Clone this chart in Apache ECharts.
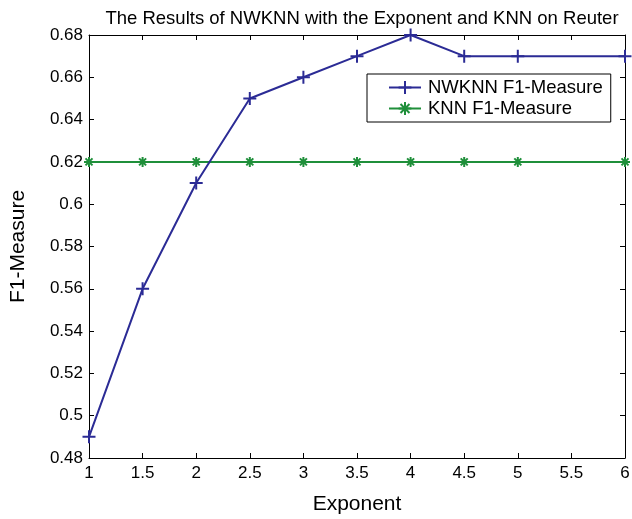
<!DOCTYPE html>
<html>
<head>
<meta charset="utf-8">
<script src="https://cdn.jsdelivr.net/npm/echarts@6/dist/echarts.min.js"></script>
<style>
  html, body { margin: 0; padding: 0; background: #fff; }
  #chart { width: 632px; height: 519px; }
</style>
</head>
<body>
<div id="chart"></div>
<script>
const exponents = [1, 1.5, 2, 2.5, 3, 3.5, 4, 4.5, 5, 6];
const nwknnF1 = [0.49, 0.56, 0.61, 0.65, 0.66, 0.67, 0.68, 0.67, 0.67, 0.67];
const knnF1 = [0.62, 0.62, 0.62, 0.62, 0.62, 0.62, 0.62, 0.62, 0.62, 0.62];

const FONT = "Liberation Sans, Arial, Helvetica, sans-serif";
const plusPath = "path://M0,-1L0,1M-1,0L1,0";
const starPath = "path://M0,-1L0,1M-1,0L1,0M-0.7,-0.7L0.7,0.7M-0.7,0.7L0.7,-0.7";

function pairs(xs, ys) {
    return xs.map(function (x, i) { return [x, ys[i]]; });
}

const chart = echarts.init(document.getElementById("chart"));

const axisBase = {
    type: "value",
    axisLine: { show: true, onZero: false, lineStyle: { color: "#000", width: 1 } },
    axisTick: { show: true, inside: true, length: 5, lineStyle: { color: "#000" } },
    splitLine: { show: false },
};

chart.setOption({
    animation: false,
    title: {
        text: "The Results of NWKNN with the Exponent and KNN on Reuter",
        left: 357,
        textAlign: "center",
        top: 4,
        textStyle: { fontFamily: FONT, fontSize: 18.5, fontWeight: "normal", color: "#000" },
    },
    legend: {
        orient: "vertical",
        left: 367,
        top: 74,
        padding: [4, 8, 4, 21],
        itemGap: 2,
        itemWidth: 32,
        itemHeight: 16,
        borderColor: "#000",
        borderWidth: 1,
        backgroundColor: "#fff",
        textStyle: { fontFamily: FONT, fontSize: 18.5, color: "#000", padding: [0, 0, 0, 2] },
        data: ["NWKNN F1-Measure", "KNN F1-Measure"],
    },
    grid: { left: 89, right: 7, top: 35, bottom: 61, outerBoundsMode: "none" },
    xAxis: [
        Object.assign({}, axisBase, {
            min: 1, max: 6, interval: 0.5,
            name: "Exponent",
            nameLocation: "middle",
            nameGap: 36,
            nameTextStyle: { fontFamily: FONT, fontSize: 21, color: "#000" },
            axisLabel: { fontFamily: FONT, fontSize: 17, color: "#000", margin: 7 },
        }),
        Object.assign({}, axisBase, {
            min: 1, max: 6, interval: 0.5, position: "top",
            axisLabel: { show: false },
        }),
    ],
    yAxis: [
        Object.assign({}, axisBase, {
            min: 0.48, max: 0.68, interval: 0.02,
            name: "F1-Measure",
            nameLocation: "middle",
            nameGap: 60,
            nameTextStyle: { fontFamily: FONT, fontSize: 21, color: "#000" },
            axisLabel: { fontFamily: FONT, fontSize: 17, color: "#000", margin: 6 },
        }),
        Object.assign({}, axisBase, {
            min: 0.48, max: 0.68, interval: 0.02, position: "right",
            axisLabel: { show: false },
        }),
    ],
    series: [
        {
            name: "NWKNN F1-Measure",
            type: "line",
            data: pairs(exponents, nwknnF1),
            symbol: plusPath,
            symbolSize: 13,
            lineStyle: { color: "#2b2b95", width: 2 },
            itemStyle: { color: "#2b2b95", borderColor: "#2b2b95", borderWidth: 2 },
            z: 3,
        },
        {
            name: "KNN F1-Measure",
            type: "line",
            data: pairs(exponents, knnF1),
            symbol: starPath,
            symbolSize: 10,
            lineStyle: { color: "#1f8f3a", width: 2 },
            itemStyle: { color: "#1f8f3a", borderColor: "#1f8f3a", borderWidth: 2 },
            z: 2,
        },
    ],
});

window.addEventListener("resize", function () {
    chart.resize();
});
</script>
</body>
</html>
